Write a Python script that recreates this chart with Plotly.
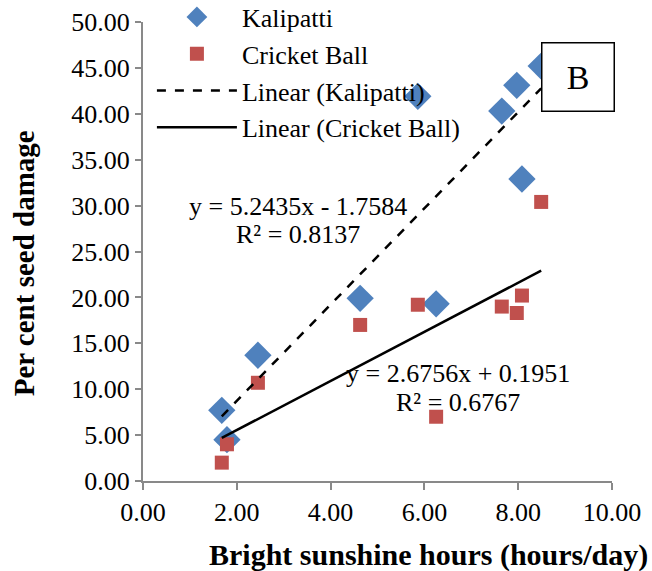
import plotly.graph_objects as go

# Data
sunshine = [1.68, 1.79, 2.45, 4.63, 5.86, 6.25, 7.65, 7.97, 8.08, 8.49]
kalipatti = [7.7, 4.5, 13.7, 19.9, 41.9, 19.3, 40.3, 43.1, 32.9, 45.2]
cricket_ball = [2.0, 4.0, 10.7, 17.0, 19.2, 7.0, 19.0, 18.3, 20.2, 30.4]

# Linear trend coefficients (slope, intercept) as printed on the chart
kal_fit = [5.2435, -1.7584]
cb_fit = [2.6756, 0.1951]
kal_r2 = "0.8137"
cb_r2 = "0.6767"

x_ticks = [0, 2, 4, 6, 8, 10]
y_ticks = [0, 5, 10, 15, 20, 25, 30, 35, 40, 45, 50]

FONT = "Liberation Serif"
BLUE = "#4F81BD"
RED = "#C0504D"
AXIS = "#898989"
FS = 26

xmin, xmax = min(sunshine), max(sunshine)
trend_x = [xmin, xmax]
kal_trend = [kal_fit[0] * v + kal_fit[1] for v in trend_x]
cb_trend = [cb_fit[0] * v + cb_fit[1] for v in trend_x]

fig = go.Figure()
fig.add_trace(go.Scatter(x=sunshine, y=kalipatti, mode="markers", name="Kalipatti",
                         marker=dict(symbol="diamond", size=21, color=BLUE)))
fig.add_trace(go.Scatter(x=sunshine, y=cricket_ball, mode="markers", name="Cricket Ball",
                         marker=dict(symbol="square", size=14, color=RED)))
fig.add_trace(go.Scatter(x=trend_x, y=kal_trend, mode="lines", name="Linear (Kalipatti)",
                         line=dict(color="black", width=2.5, dash="dash")))
fig.add_trace(go.Scatter(x=trend_x, y=cb_trend, mode="lines", name="Linear (Cricket Ball)",
                         line=dict(color="black", width=2.5)))

def fmt(v):
    return f"{v:.2f}"

fig.update_layout(
    width=652, height=571,
    margin=dict(l=143, r=40, t=22, b=90, autoexpand=False),
    paper_bgcolor="white", plot_bgcolor="white",
    font=dict(family=FONT, size=FS, color="black"),
    showlegend=True,
    legend=dict(x=0.019, y=1.062, xanchor="left", yanchor="top",
                bgcolor="rgba(0,0,0,0)", font=dict(family=FONT, size=FS),
                tracegroupgap=0, itemwidth=80),
    xaxis=dict(range=[0, 10], tickvals=x_ticks, ticktext=[fmt(v) for v in x_ticks],
               showgrid=False, zeroline=False, showline=True, linecolor=AXIS,
               linewidth=2, ticks="outside", ticklen=7, tickcolor=AXIS, tickwidth=2,
               tickfont=dict(family=FONT, size=FS)),
    yaxis=dict(range=[0, 50], tickvals=y_ticks, ticktext=[fmt(v) for v in y_ticks],
               showgrid=False, zeroline=False, showline=True, linecolor=AXIS,
               linewidth=2, ticks="outside", ticklen=6, tickcolor=AXIS, tickwidth=2,
               tickfont=dict(family=FONT, size=FS)),
)

eq_font = dict(family=FONT, size=FS)
annotations = [
    dict(x=-0.253, y=0.475, xref="paper", yref="paper", text="<b>Per cent seed damage</b>",
         textangle=-90, showarrow=False, font=dict(family=FONT, size=29),
         xanchor="center", yanchor="middle"),
    dict(x=0.608, y=-0.162, xref="paper", yref="paper",
         text="<b>Bright sunshine hours (hours/day)</b>",
         showarrow=False, font=dict(family=FONT, size=30), xanchor="center", yanchor="middle"),
    dict(x=3.30, y=29.85, xref="x", yref="y",
         text=f"y = {kal_fit[0]}x - {abs(kal_fit[1])}",
         showarrow=False, font=eq_font, xanchor="center", yanchor="middle"),
    dict(x=3.30, y=26.9, xref="x", yref="y", text=f"R² = {kal_r2}",
         showarrow=False, font=eq_font, xanchor="center", yanchor="middle"),
    dict(x=6.72, y=11.76, xref="x", yref="y",
         text=f"y = {cb_fit[0]}x + {cb_fit[1]}",
         showarrow=False, font=eq_font, xanchor="center", yanchor="middle"),
    dict(x=6.72, y=8.5, xref="x", yref="y", text=f"R² = {cb_r2}",
         showarrow=False, font=eq_font, xanchor="center", yanchor="middle"),
    dict(x=0.9275, y=0.880, xref="paper", yref="paper", text="B", showarrow=False,
         font=dict(family=FONT, size=34), bordercolor="black", borderwidth=1.5,
         borderpad=1, bgcolor="white", width=69, height=65,
         xanchor="center", yanchor="middle"),
]
fig.update_layout(annotations=annotations)

fig.write_html("out.html")
